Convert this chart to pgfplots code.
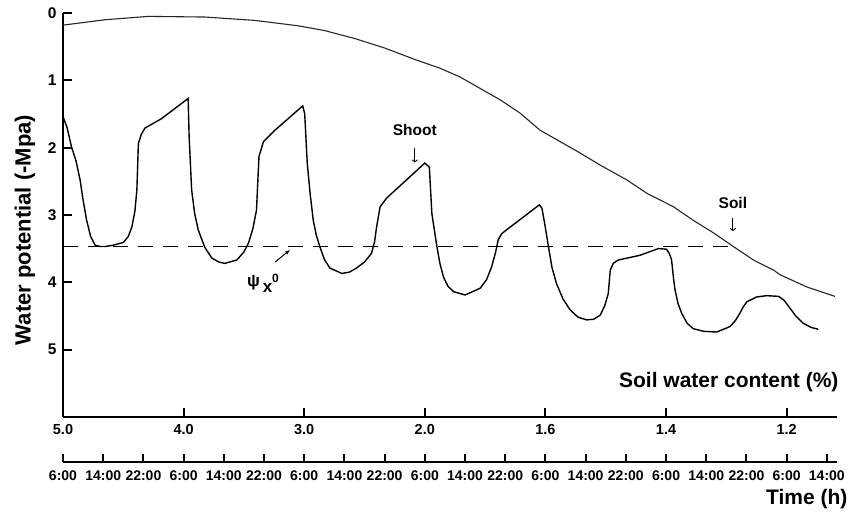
\documentclass[border=0pt]{standalone}
\usepackage{pgfplots}
\pgfplotsset{compat=1.18}
\usepackage{fontspec}
\setmainfont{Liberation Sans}
\usetikzlibrary{arrows.meta}

\begin{document}
\begin{tikzpicture}
\useasboundingbox (-63pt,-98.2pt) rectangle (789pt,416.8pt);
\begin{axis}[
  at={(0pt,0pt)}, anchor=south west,
  scale only axis, width=773.9pt, height=403.8pt,
  xmin=0, xmax=154, ymin=0, ymax=6, y dir=reverse,
  axis x line=bottom, axis y line=left,
  axis line style={line width=2pt, -},
  tick align=inside, major tick length=9pt,
  tick style={line width=2pt, black},
  clip=false,
  /pgf/number format/assume math mode=true,
  xtick={0,24,48,72,96,120,144},
  xticklabels={5.0,4.0,3.0,2.0,1.6,1.4,1.2},
  ytick={0,1,2,3,4,5},
  xticklabel style={font=\bfseries\fontsize{14.5}{15}\selectfont, yshift=-4pt},
  yticklabel style={font=\bfseries\fontsize{15.5}{16}\selectfont, xshift=-3pt},
]
% shoot water potential
\addplot[black, line width=1.4pt] coordinates {
(0,1.54) (0.8,1.70) (1.7,1.99) (2.6,2.20) (3.4,2.48) (4.0,2.78) (4.7,3.08) (5.5,3.32) (6.4,3.45) (7.4,3.47) (8.4,3.47) (10,3.45) (12,3.41) (13,3.32) (13.7,3.18) (14.3,2.95) (14.7,2.63) (15,1.94) (15.6,1.80) (16.3,1.71) (19.6,1.57) (24.9,1.27)
(25.1,1.84) (25.6,2.63) (26.2,2.98) (26.9,3.22) (28.2,3.48) (29.6,3.64) (31,3.70) (32.2,3.72) (34.6,3.67) (36,3.55) (36.9,3.42) (37.8,3.20) (38.5,2.93) (39,2.13) (39.9,1.91) (42.2,1.74) (47.7,1.38)
(48.1,1.50) (48.6,2.23) (49.2,2.70) (49.8,3.08) (50.4,3.30) (51.1,3.47) (52,3.66) (53.1,3.79) (55.5,3.87) (57,3.85) (58.4,3.79) (60,3.70) (61.4,3.57) (62,3.40) (62.4,3.18) (63.1,2.88) (64.4,2.75) (72,2.23)
(72.9,2.29) (73.4,2.98) (74.4,3.47) (75,3.72) (75.7,3.92) (76.6,4.06) (77.7,4.14) (80,4.19) (83,4.09) (84.3,3.96) (85.3,3.77) (86.1,3.55) (86.6,3.37) (87.3,3.28) (88.3,3.22) (94.8,2.85)
(95.3,2.90) (95.9,3.15) (96.6,3.47) (97.3,3.78) (98.2,4.02) (99.5,4.25) (100.9,4.41) (102.5,4.52) (104.2,4.56) (105.6,4.55) (106.9,4.49) (107.8,4.35) (108.5,4.17) (108.9,3.82) (109.5,3.72) (110.5,3.67) (114.8,3.60) (118.5,3.50) (120.1,3.51)
(120.7,3.58) (121.1,3.67) (121.5,3.95) (121.8,4.12) (122.4,4.32) (123.1,4.46) (124.2,4.61) (125.4,4.69) (127.5,4.73) (130.1,4.74) (132.7,4.66) (133.8,4.57) (134.7,4.46) (135.4,4.36) (136.1,4.29) (138,4.22) (140,4.20) (142.4,4.21) (143.5,4.27) (144.4,4.36) (145.8,4.50) (147.3,4.61) (148.8,4.67) (150.3,4.70)
};
% soil water potential
\addplot[black!85, line width=1.1pt] coordinates {
(0,0.18) (8.4,0.10) (17,0.05) (28.3,0.06) (38.2,0.11) (46.8,0.19) (52,0.26) (58.1,0.38) (64,0.52) (70,0.69) (75,0.82) (79,0.95) (83,1.12) (87,1.29) (91,1.49) (94.9,1.74) (98.9,1.91) (102.9,2.08) (106.9,2.26) (112.2,2.48) (116.2,2.68) (121.5,2.88) (125.4,3.08) (129.5,3.27) (133.4,3.47) (137.4,3.67) (141.4,3.82) (142.7,3.89) (148,4.07) (153.6,4.21)
};
% psi_x^0 threshold
\addplot[black, line width=1.8pt, dash pattern=on 15pt off 10pt] coordinates {(0,3.47) (133.4,3.47)};
% annotations
\node[font=\bfseries\fontsize{15.5}{16}\selectfont] at (axis cs:70,1.74) {Shoot};
\draw[-{To[length=3pt,width=6pt]}, line width=0.9pt] (axis cs:70,2.00) -- (axis cs:70,2.22);
\node[font=\bfseries\fontsize{15.5}{16}\selectfont] at (axis cs:133.3,2.82) {Soil};
\draw[-{To[length=3pt,width=6pt]}, line width=0.9pt] (axis cs:133.3,3.04) -- (axis cs:133.3,3.24);
\node[font=\bfseries\fontsize{17}{17}\selectfont, anchor=center] at (axis cs:39.8,4.02) {ψ\,\raisebox{-6pt}{x}\raisebox{4pt}{\fontsize{12}{12}\selectfont 0}};
\draw[-{Latex[length=5pt,width=4pt]}, line width=1pt] (axis cs:42.2,3.70) -- (axis cs:45.2,3.52);
\end{axis}
% time axis
\begin{axis}[
  at={(0pt,-44.9pt)}, anchor=south west,
  scale only axis, width=773.9pt, height=10pt,
  xmin=0, xmax=154, ymin=0, ymax=1,
  axis x line=bottom, axis y line=none,
  axis line style={line width=2pt, -},
  tick align=inside, major tick length=8pt,
  tick style={line width=2pt, black},
  xtick={0,8,...,152},
  xticklabels={6:00,14:00,22:00,6:00,14:00,22:00,6:00,14:00,22:00,6:00,14:00,22:00,6:00,14:00,22:00,6:00,14:00,22:00,6:00,14:00},
  xticklabel style={font=\bfseries\fontsize{14}{14}\selectfont, yshift=-5pt},
]
\end{axis}
\node[anchor=east, font=\bfseries\fontsize{21}{22}\selectfont] at (779pt,34.8pt) {Soil water content (\%)};
\node[anchor=east, font=\bfseries\fontsize{21}{22}\selectfont] at (788pt,-82.2pt) {Time (h)};
\node[rotate=90, font=\bfseries\fontsize{22}{23}\selectfont] at (-38pt,186.8pt) {Water potential (-Mpa)};
\end{tikzpicture}
\end{document}
